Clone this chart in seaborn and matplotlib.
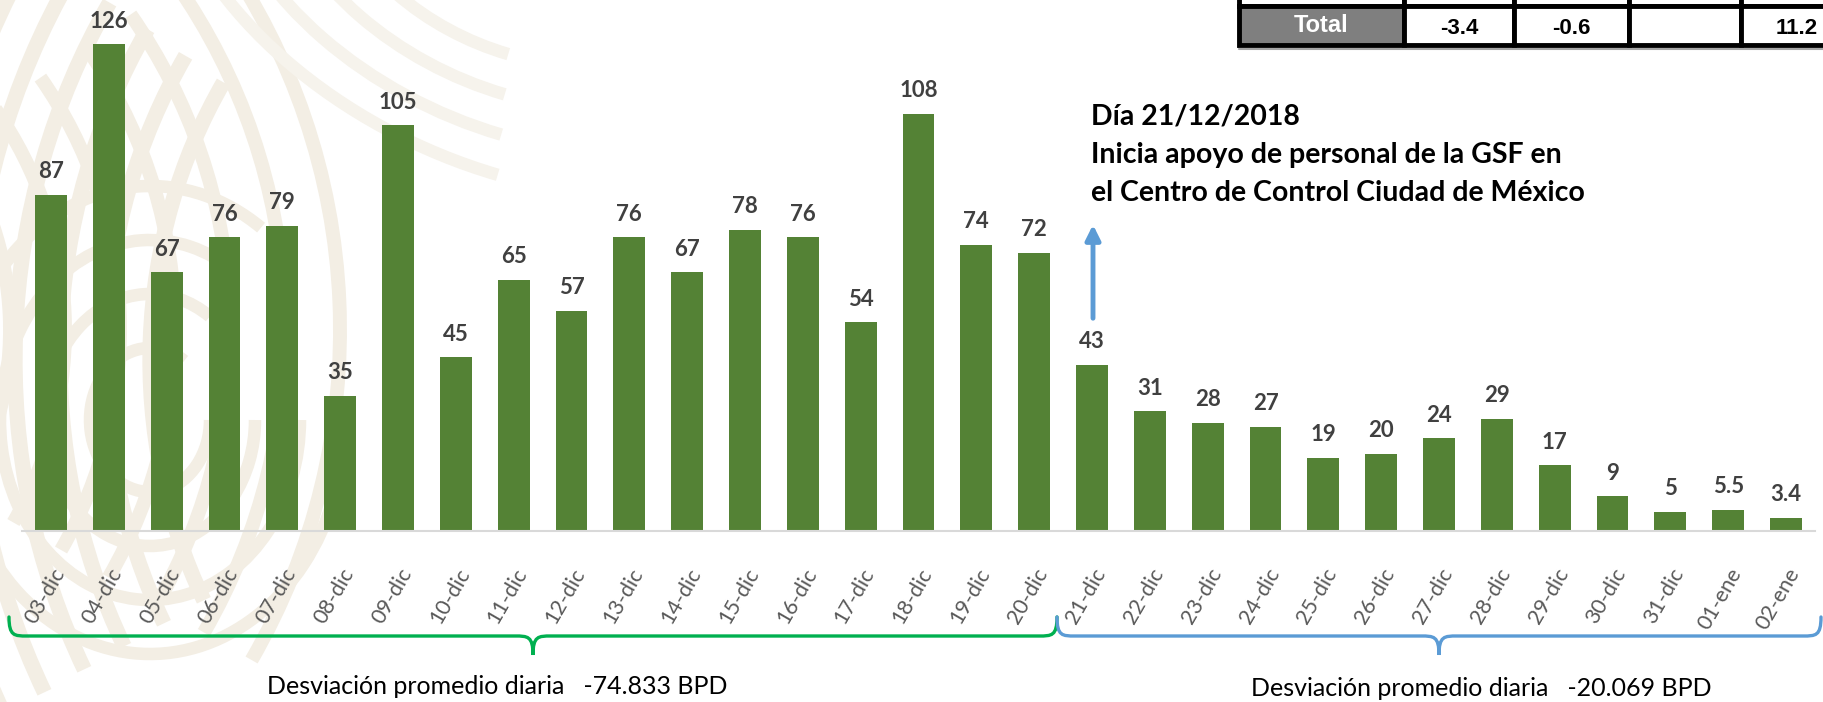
import numpy as np
import matplotlib
matplotlib.use("Agg")
import matplotlib.pyplot as plt
import seaborn as sns
from matplotlib.patches import Rectangle, Arc, PathPatch
from matplotlib.path import Path
from matplotlib.transforms import ScaledTranslation

fechas = ["03-dic", "04-dic", "05-dic", "06-dic", "07-dic", "08-dic", "09-dic", "10-dic",
          "11-dic", "12-dic", "13-dic", "14-dic", "15-dic", "16-dic", "17-dic", "18-dic",
          "19-dic", "20-dic", "21-dic", "22-dic", "23-dic", "24-dic", "25-dic", "26-dic",
          "27-dic", "28-dic", "29-dic", "30-dic", "31-dic", "01-ene", "02-ene"]
valores = [87, 126, 67, 76, 79, 35, 105, 45, 65, 57, 76, 67, 78, 76, 54, 108, 74, 72,
           43, 31, 28, 27, 19, 20, 24, 29, 17, 9, 5, 5.5, 3.4]

tabla_etiqueta = "Total"
tabla_valores = ["-3.4", "-0.6", "", "11.2"]

nota = ["Día 21/12/2018",
        "Inicia apoyo de personal de la GSF en",
        "el Centro de Control Ciudad de México"]
grupos = ["Desviación promedio diaria   -74.833 BPD",
          "Desviación promedio diaria   -20.069 BPD"]

sns.set_style("white")
plt.rcParams["font.family"] = ["Lato", "DejaVu Sans"]

W, H = 1824, 702
fig = plt.figure(figsize=(W / 100, H / 100), dpi=100)
fig.patch.set_facecolor("white")

# fondo (marca de agua)
bg = fig.add_axes([0, 0, 1, 1], zorder=0)
bg.set_xlim(0, W)
bg.set_ylim(H, 0)
bg.axis("off")
beige = "#f3eee4"
for r in range(470, 700, 45):
    bg.add_patch(Arc((620, 360), 2 * r, 2.2 * r, theta1=150, theta2=215, color=beige, lw=11))
for r in range(330, 700, 55):
    bg.add_patch(Arc((-320, 330), 2 * r, 2 * r, theta1=-35, theta2=30, color=beige, lw=10))
for r in range(60, 200, 45):
    bg.add_patch(Arc((150, 420), 2 * r, 2.4 * r, theta1=0, theta2=300, color=beige, lw=9))
for r in range(200, 420, 60):
    bg.add_patch(Arc((520, -80), 2 * r, 1.3 * r, angle=25, theta1=70, theta2=160,
                     color="#f6f3ec", lw=9))

# grafica principal
y0 = 531
escala = 3.865
ymax = 130
ax = fig.add_axes([22 / W, (H - y0) / H, (1815 - 22) / W, ymax * escala / H], zorder=1)
ax.patch.set_alpha(0)

sns.barplot(x=fechas, y=valores, order=fechas, color="#548235", saturation=1,
            width=0.55, linewidth=0, ax=ax)
ax.bar_label(ax.containers[0], labels=[f"{v:g}" for v in valores], padding=9,
             fontsize=16, fontweight="bold", color="#404040")

ax.set_xlim(-0.5, len(fechas) - 0.5)
ax.set_ylim(0, ymax)
ax.set_yticks([])
ax.set_xlabel("")
ax.set_ylabel("")
for s in ["left", "top", "right"]:
    ax.spines[s].set_visible(False)
ax.spines["bottom"].set_color("#d9d9d9")
ax.spines["bottom"].set_linewidth(1.5)

ax.set_xticks(range(len(fechas)))
ax.set_xticklabels(fechas, rotation=60, ha="right", va="center",
                   rotation_mode="anchor", fontsize=15.5, color="#595959")
ax.set_xticks(np.arange(-0.5, len(fechas), 1), minor=True)
ax.tick_params(axis="x", which="major", length=0, pad=28)
ax.tick_params(axis="x", which="minor", length=9, width=1.5, color="#d9d9d9")
for lab in ax.get_xticklabels():
    lab.set_transform(lab.get_transform() + ScaledTranslation(0.09, 0, fig.dpi_scale_trans))

# capa superior: tabla, llaves, textos
ov = fig.add_axes([0, 0, 1, 1], zorder=2)
ov.set_xlim(0, W)
ov.set_ylim(H, 0)
ov.axis("off")
ov.patch.set_alpha(0)

xs = [1239, 1404, 1514, 1629, 1741, 1853]
for i in range(len(xs) - 1):
    ov.add_patch(Rectangle((xs[i], -30), xs[i + 1] - xs[i], 36, facecolor="white",
                           edgecolor="black", lw=3.5))
    fc = "#7f7f7f" if i == 0 else "white"
    ov.add_patch(Rectangle((xs[i], 6), xs[i + 1] - xs[i], 39, facecolor=fc,
                           edgecolor="black", lw=3.5))
ov.plot([1239, W], [49, 49], color="#a6a6a6", lw=1.5)
ov.text((xs[0] + xs[1]) / 2, 25, tabla_etiqueta, color="white", fontsize=17,
        fontweight="bold", family="Liberation Sans", ha="center", va="center")
for i, t in enumerate(tabla_valores):
    ov.text((xs[i + 1] + xs[i + 2]) / 2, 28, t, color="black", fontsize=16,
            fontweight="bold", family="Liberation Sans", ha="center", va="center")

# nota y flecha
for i, linea in enumerate(nota):
    ov.text(1091, 117 + 38 * i, linea, fontsize=20.5, fontweight="bold", color="black",
            ha="left", va="center")
ov.annotate("", xy=(1093, 222), xytext=(1093, 321),
            arrowprops=dict(arrowstyle="-|>", color="#5b9bd5", lw=3.5, mutation_scale=22))


def llave(x0, x1, color, ytop=617, yh=636, ytip=655, r=18):
    xm = (x0 + x1) / 2
    verts = [(x0, ytop), (x0, yh), (x0 + r * 0.3, yh), (x0 + r, yh),
             (xm - r, yh),
             (xm - r * 0.3, yh), (xm, yh), (xm, ytip),
             (xm, yh), (xm + r * 0.3, yh), (xm + r, yh),
             (x1 - r, yh),
             (x1 - r * 0.3, yh), (x1, yh), (x1, ytop)]
    codes = [Path.MOVETO, Path.CURVE4, Path.CURVE4, Path.CURVE4,
             Path.LINETO,
             Path.CURVE4, Path.CURVE4, Path.CURVE4,
             Path.CURVE4, Path.CURVE4, Path.CURVE4,
             Path.LINETO,
             Path.CURVE4, Path.CURVE4, Path.CURVE4]
    ov.add_patch(PathPatch(Path(verts, codes), facecolor="none", edgecolor=color, lw=2.4,
                           capstyle="round"))


llave(9, 1057, "#00b050")
llave(1057, 1821, "#5b9bd5")

ov.text(497, 686, grupos[0], fontsize=18, color="black", ha="center", va="center")
ov.text(1481, 688, grupos[1], fontsize=18, color="black", ha="center", va="center")

fig.savefig("out.png", dpi=100)
